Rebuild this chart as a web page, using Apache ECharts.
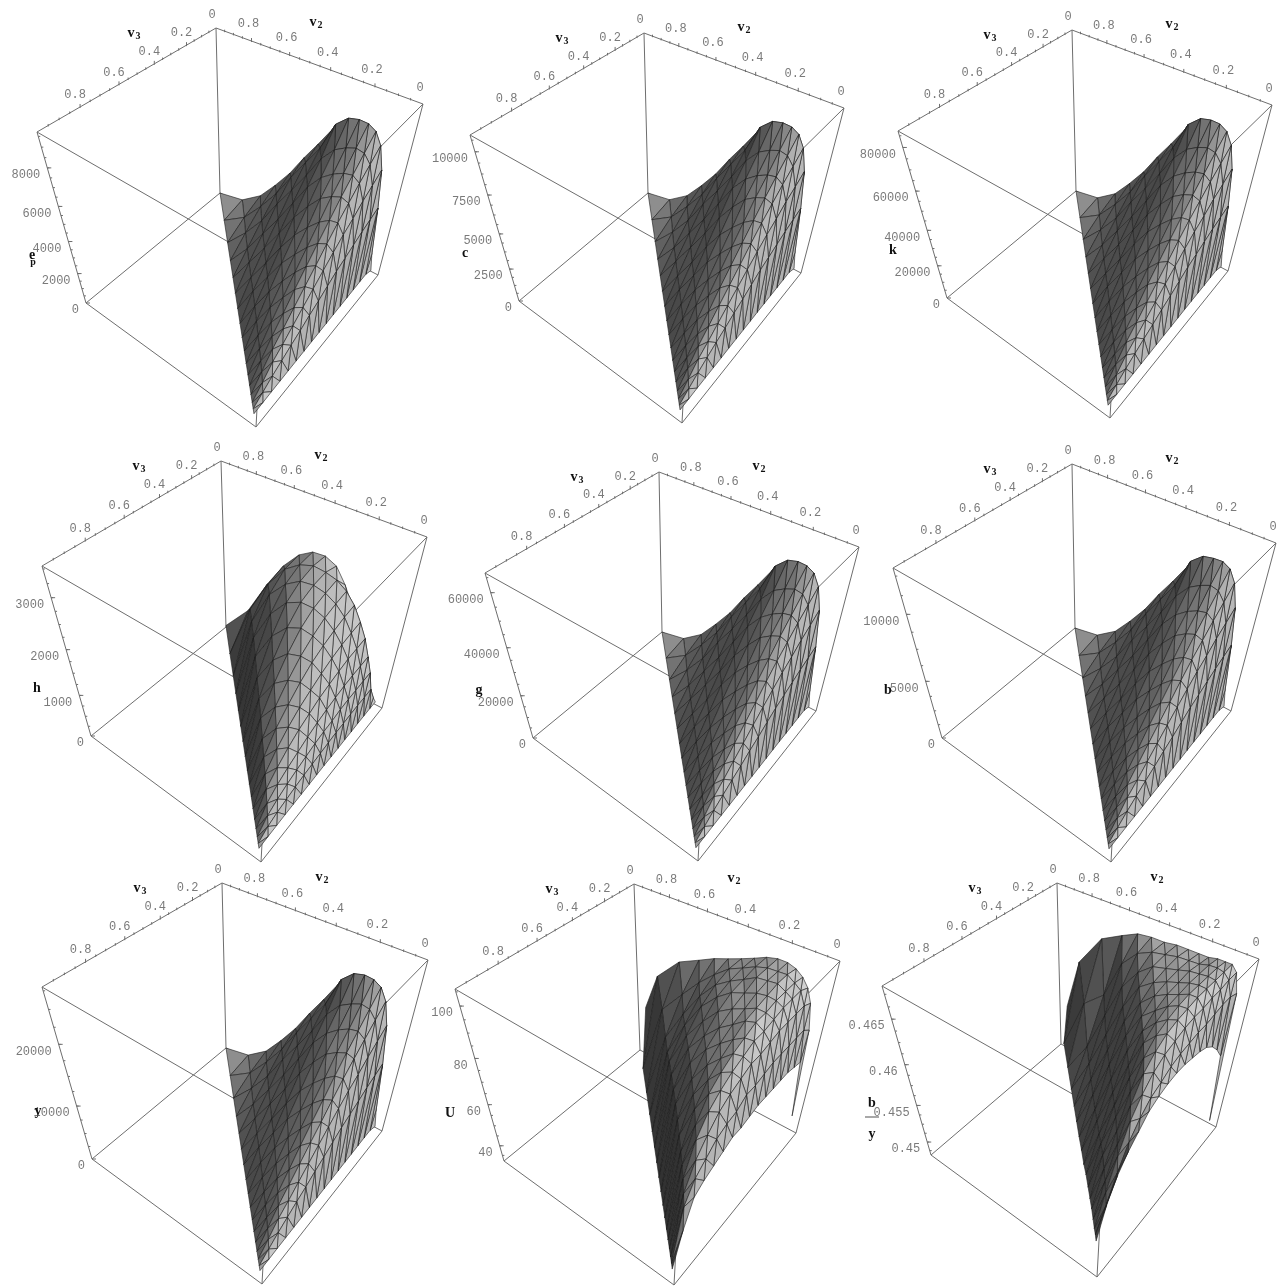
<!DOCTYPE html>
<html>
<head>
<meta charset="utf-8">
<title>surfaces</title>
<script src="https://cdn.jsdelivr.net/npm/echarts@6/dist/echarts.min.js"></script>
<style>html,body{margin:0;padding:0;background:#fff}#main{width:1282px;height:1287px}</style>
</head>
<body>
<div id="main"></div>
<script>
// v2 of each mesh row, row r holds 17-r nodes running from v3=0 to v3=1-v2
var v2Levels = [0.04, 0.055, 0.075, 0.1, 0.13, 0.165, 0.205, 0.25, 0.3, 0.355, 0.415, 0.48, 0.55, 0.63, 0.72, 0.84, 1];
var v2LevelsDome = [0.04, 0.055, 0.075, 0.1, 0.13, 0.165, 0.205, 0.25, 0.3, 0.355, 0.415, 0.48, 0.55, 0.63, 0.74, 0.87, 0.95];
var v2Ticks = [0.8, 0.6, 0.4, 0.2, 0];
var v3Ticks = [0, 0.2, 0.4, 0.6, 0.8];

// heights, one list per mesh row
var zEp = [
	[50,290,280,260,240,230,210,190,170,150,130,110,90,70,50,20,0],
	[1100,4460,4210,3970,3680,3390,3120,2770,2410,2100,1740,1430,1090,760,380,0],
	[1600,6500,6080,5690,5200,4780,4290,3770,3250,2730,2210,1690,1240,590,0],
	[1900,7660,7120,6590,6010,5440,4790,4100,3450,2800,2140,1530,770,0],
	[2000,8250,7590,6930,6270,5530,4790,4040,3300,2480,1730,870,0],
	[2100,8490,7730,6920,6200,5350,4500,3650,2800,1950,980,0],
	[2200,8540,7600,6750,5980,4950,4010,3070,2140,1070,0],
	[3000,8440,7340,6410,5400,4390,3380,2320,1180,0],
	[4500,7950,6680,5720,4610,3500,2390,1270,0],
	[6980,6490,5580,4610,3490,2370,1330,0],
	[5920,5450,4500,3430,2370,1240,0],
	[4850,4320,3400,2280,1210,0],
	[3590,3020,2080,1080,0],
	[2430,1850,970,0],
	[1260,730,0],
	[340,0],
	[0]
];
var zC = [
	[60,330,310,290,270,260,240,210,190,170,150,120,100,80,60,20,0],
	[1240,5010,4730,4460,4140,3810,3510,3110,2710,2360,1960,1610,1230,850,430,0],
	[1800,7310,6830,6400,5840,5370,4820,4240,3650,3070,2480,1900,1390,660,0],
	[2140,8610,8000,7410,6760,6110,5380,4610,3880,3150,2410,1720,870,0],
	[2250,9270,8530,7790,7050,6220,5380,4540,3710,2790,1940,980,0],
	[2360,9540,8690,7780,6970,6010,5060,4100,3150,2190,1100,0],
	[2470,9600,8540,7590,6720,5560,4510,3450,2410,1200,0],
	[3370,9490,8250,7200,6070,4930,3800,2610,1330,0],
	[5060,8940,7510,6430,5180,3930,2690,1430,0],
	[7850,7290,6270,5180,3920,2660,1490,0],
	[6650,6130,5060,3860,2660,1390,0],
	[5450,4860,3820,2560,1360,0],
	[4040,3390,2340,1210,0],
	[2730,2080,1090,0],
	[1420,820,0],
	[380,0],
	[0]
];
var zK = [
	[450,2600,2500,2300,2200,2100,1900,1700,1500,1300,1200,1000,800,600,450,200,0],
	[9900,40000,37800,35600,33000,30400,28000,24800,21600,18800,15600,12800,9800,6800,3400,0],
	[14400,58300,54500,51000,46600,42900,38500,33800,29200,24500,19800,15200,11100,5300,0],
	[17000,68700,63900,59100,53900,48800,43000,36800,30900,25100,19200,13700,6900,0],
	[17900,74000,68100,62200,56200,49600,43000,36200,29600,22200,15500,7800,0],
	[18800,76200,69300,62100,55600,48000,40400,32700,25100,17500,8800,0],
	[19700,76600,68200,60500,53600,44400,36000,27500,19200,9600,0],
	[26900,75700,65800,57500,48400,39400,30300,20800,10600,0],
	[40400,71300,59900,51300,41400,31400,21400,11400,0],
	[62600,58200,50100,41400,31300,21300,11900,0],
	[53100,48900,40400,30800,21300,11100,0],
	[43500,38800,30500,20500,10900,0],
	[32200,27100,18700,9700,0],
	[21800,16600,8700,0],
	[11300,6500,0],
	[3000,0],
	[0]
];
var zH = [
	[60,70,70,70,65,65,60,60,60,55,50,45,40,35,25,15,0],
	[130,530,520,520,510,490,480,450,420,390,360,320,270,220,140,0],
	[220,890,880,860,850,820,770,740,690,620,550,470,370,240,0],
	[300,1210,1190,1170,1140,1090,1030,960,870,760,650,520,340,0],
	[400,1560,1530,1500,1440,1370,1290,1170,1050,890,690,450,0],
	[900,1850,1810,1760,1680,1570,1440,1300,1110,870,560,0],
	[1400,2130,2080,2000,1900,1770,1580,1340,1070,680,0],
	[1850,2340,2280,2200,2050,1860,1590,1260,810,0],
	[2200,2480,2420,2330,2150,1860,1480,980,0],
	[2480,2550,2500,2380,2100,1670,1090,0],
	[2580,2590,2500,2300,1860,1220,0],
	[2560,2520,2360,2000,1350,0],
	[2400,2340,2070,1420,0],
	[2060,1930,1400,0],
	[1530,1270,0],
	[710,0],
	[40]
];
var zG = [
	[340,2000,1900,1800,1650,1600,1450,1300,1150,1000,900,750,600,480,340,140,0],
	[7500,30600,28900,27200,25200,23300,21400,19000,16500,14400,11900,9800,7500,5200,2600,0],
	[11000,44600,41700,39000,35700,32800,29400,25900,22300,18700,15200,11600,8500,4000,0],
	[13000,52500,48800,45200,41200,37300,32900,28100,23700,19200,14700,10500,5300,0],
	[13700,56600,52100,47500,43000,37900,32900,27700,22600,17000,11900,6000,0],
	[14400,58200,53000,47500,42500,36700,30900,25000,19200,13400,6700,0],
	[15100,58600,52100,46300,41000,34000,27500,21100,14700,7300,0],
	[20600,57900,50400,44000,37000,30100,23200,15900,8100,0],
	[30900,54500,45800,39200,31600,24000,16400,8700,0],
	[47900,44500,38300,31600,23900,16300,9100,0],
	[40600,37400,30900,23500,16300,8500,0],
	[33300,29600,23300,15600,8300,0],
	[24600,20700,14300,7400,0],
	[16700,12700,6700,0],
	[8600,5000,0],
	[2300,0],
	[0]
];
var zB = [
	[70,390,380,350,320,310,280,250,230,200,170,150,120,90,70,30,0],
	[1470,5980,5640,5320,4930,4540,4180,3710,3230,2810,2330,1920,1460,1020,510,0],
	[2140,8710,8150,7620,6970,6410,5750,5050,4360,3660,2960,2260,1660,790,0],
	[2550,10300,9540,8830,8050,7290,6420,5490,4620,3750,2870,2050,1030,0],
	[2680,11100,10200,9290,8400,7410,6420,5410,4420,3320,2320,1170,0],
	[2810,11400,10400,9270,8310,7170,6030,4890,3750,2610,1310,0],
	[2950,11400,10200,9050,8010,6630,5370,4110,2870,1430,0],
	[4020,11300,9840,8590,7240,5880,4530,3110,1580,0],
	[6030,10700,8950,7660,6180,4690,3200,1700,0],
	[9350,8700,7480,6180,4680,3180,1780,0],
	[7930,7300,6030,4600,3180,1660,0],
	[6500,5790,4560,3060,1620,0],
	[4810,4050,2790,1450,0],
	[3260,2480,1300,0],
	[1690,980,0],
	[460,0],
	[0]
];
var zY = [
	[140,840,810,750,690,660,610,550,490,430,380,320,260,200,140,60,0],
	[3180,12900,12200,11500,10600,9790,9010,8000,6960,6060,5020,4130,3150,2190,1100,0],
	[4620,18800,17600,16400,15000,13800,12400,10900,9380,7880,6380,4880,3580,1700,0],
	[5490,22100,20600,19000,17400,15700,13800,11800,9960,8080,6180,4420,2220,0],
	[5770,23800,21900,20000,18100,16000,13800,11700,9530,7160,4990,2510,0],
	[6060,24500,22300,20000,17900,15400,13000,10500,8080,5630,2830,0],
	[6350,24700,21900,19500,17300,14300,11600,8860,6180,3090,0],
	[8660,24400,21200,18500,15600,12700,9760,6700,3410,0],
	[13000,23000,19300,16500,13300,10100,6900,3670,0],
	[20200,18700,16100,13300,10100,6840,3840,0],
	[17100,15700,13000,9900,6840,3580,0],
	[14000,12500,9820,6580,3490,0],
	[10400,8720,6000,3120,0],
	[7020,5340,2800,0],
	[3640,2110,0],
	[980,0],
	[0]
];
var zU = [
	[39,68,69,70,70,70,70,70,69,68,68,66,64,62,59,48,33.5],
	[78,81,81,81,81,81,80,79,79,76,75,73,69,65,57,34],
	[88,90,90,90,90,89,88,88,86,84,81,76,70,60,34],
	[93,95,95,95,94,93,93,91,89,86,82,75,63,34],
	[96,97,97,97,96,96,94,92,89,85,77,65,34],
	[98,99,99,98,97,96,93,90,86,79,66,34],
	[99,99,99,98,96,94,91,87,80,68,34],
	[99,99,99,97,95,92,88,81,69,34],
	[98,98,97,96,93,88,82,70,34],
	[96,96,95,93,88,82,70,34],
	[94,94,92,88,81,70,34],
	[92,90,86,79,69,34],
	[90,85,77,66,34],
	[87,78,65,34],
	[83,68,34],
	[73,34],
	[56]
];
var zBy = [
	[0.4485,0.4582,0.4598,0.4610,0.4618,0.4622,0.4624,0.4626,0.4626,0.4624,0.4620,0.4614,0.4602,0.4590,0.4574,0.4550,0.4515],
	[0.4643,0.4647,0.4647,0.4645,0.4643,0.4643,0.4641,0.4639,0.4635,0.4628,0.4622,0.4610,0.4594,0.4570,0.4542,0.4517],
	[0.4663,0.4663,0.4661,0.4661,0.4659,0.4659,0.4657,0.4653,0.4649,0.4641,0.4628,0.4610,0.4582,0.4550,0.4517],
	[0.4669,0.4669,0.4669,0.4669,0.4669,0.4667,0.4665,0.4661,0.4653,0.4641,0.4618,0.4586,0.4554,0.4519],
	[0.4669,0.4671,0.4671,0.4671,0.4671,0.4669,0.4665,0.4659,0.4647,0.4622,0.4590,0.4558,0.4521],
	[0.4669,0.4671,0.4671,0.4671,0.4669,0.4667,0.4661,0.4651,0.4626,0.4594,0.4562,0.4521],
	[0.4667,0.4669,0.4671,0.4669,0.4667,0.4661,0.4651,0.4626,0.4594,0.4562,0.4521],
	[0.4667,0.4669,0.4669,0.4667,0.4663,0.4653,0.4628,0.4594,0.4558,0.4521],
	[0.4667,0.4669,0.4667,0.4663,0.4653,0.4630,0.4594,0.4558,0.4517],
	[0.4667,0.4667,0.4665,0.4655,0.4630,0.4594,0.4554,0.4517],
	[0.4665,0.4665,0.4655,0.4630,0.4594,0.4554,0.4515],
	[0.4665,0.4659,0.4635,0.4594,0.4554,0.4515],
	[0.4663,0.4643,0.4598,0.4554,0.4515],
	[0.4655,0.4602,0.4554,0.4515],
	[0.4643,0.4582,0.4515],
	[0.4606,0.4515],
	[0.4542]
];

var ticksEp = [0, 2000, 4000, 6000, 8000];
var ticksC = [0, 2500, 5000, 7500, 10000];
var ticksK = [0, 20000, 40000, 60000, 80000];
var ticksH = [0, 1000, 2000, 3000];
var ticksG = [0, 20000, 40000, 60000];
var ticksB = [0, 5000, 10000];
var ticksY = [0, 10000, 20000];
var ticksU = [40, 60, 80, 100];
var ticksBy = [0.45, 0.455, 0.46, 0.465];

// box corners on the page: back, right, left, front of the top face, then of the floor
var panels = [
	{ rows: zEp, min: 0, max: 9700, ticks: ticksEp, main: 'e', sub: 'p', top: [[216,28],[423,104],[37,132],[265,263]], floor: [[220,193],[378,275],[86,303],[256,427]] },
	{ rows: zC, min: 0, max: 10900, ticks: ticksC, main: 'c', top: [[644,33],[844,108],[470,135],[691,259]], floor: [[648,193],[801,273],[519,301],[682,423]] },
	{ rows: zK, min: 0, max: 87000, ticks: ticksK, main: 'k', top: [[1072,30],[1272,105],[898,131],[1119,254]], floor: [[1076,191],[1228,271],[947,298],[1110,418]] },
	{ rows: zH, min: 0, max: 3550, ticks: ticksH, main: 'h', top: [[221,461],[427,537],[42,566],[270,698]], floor: [[226,627],[382,708],[91,736],[261,862]] },
	{ rows: zG, min: 0, max: 66500, ticks: ticksG, main: 'g', top: [[659,472],[859,547],[485,573],[707,697]], floor: [[662,632],[816,711],[533,738],[698,861]] },
	{ rows: zB, min: 0, max: 13000, ticks: ticksB, main: 'b', top: [[1072,464],[1276,543],[893,568],[1120,698]], floor: [[1075,628],[1231,711],[942,738],[1111,862]] },
	{ rows: zY, min: 0, max: 28000, ticks: ticksY, main: 'y', top: [[222,883],[428,960],[42,987],[271,1120]], floor: [[226,1048],[382,1131],[92,1159],[262,1284]] },
	{ rows: zU, levels: v2LevelsDome, min: 32, max: 106, ticks: ticksU, main: 'U', top: [[634,884],[840,961],[455,989],[683,1121]], floor: [[640,1050],[796,1133],[504,1161],[674,1285]] },
	{ rows: zBy, levels: v2LevelsDome, min: 0.4481, max: 0.4683, ticks: ticksBy, main: 'b', under: 'y', top: [[1057,883],[1259,959],[882,986],[1106,1113]], floor: [[1061,1044],[1216,1127],[931,1155],[1097,1277]] }
];

var LINE = '#6e6e6e', TICK_TEXT = '#7a7a7a';
var MONO = '12px "Liberation Mono"', SERIF = 'bold 14px "Liberation Serif"', SERIF_SUB = 'bold 10px "Liberation Serif"';

// maps the unit square onto the quad back, right, front, left
function quadMap(q) {
	var x0 = q[0][0], y0 = q[0][1], x1 = q[1][0], y1 = q[1][1], x2 = q[3][0], y2 = q[3][1], x3 = q[2][0], y3 = q[2][1];
	var dx1 = x1 - x2, dx2 = x3 - x2, sx = x0 - x1 + x2 - x3;
	var dy1 = y1 - y2, dy2 = y3 - y2, sy = y0 - y1 + y2 - y3;
	var den = dx1 * dy2 - dx2 * dy1;
	var g = (sx * dy2 - dx2 * sy) / den, h = (dx1 * sy - sx * dy1) / den;
	var a = x1 - x0 + g * x1, b = x3 - x0 + h * x3, d = y1 - y0 + g * y1, e = y3 - y0 + h * y3;
	return function(u, v) {
		var w = g * u + h * v + 1;
		return [(a * u + b * v + x0) / w, (d * u + e * v + y0) / w];
	};
}

// page position of a point of the box, the top is nearer to the eye than the floor
function makeProject(p) {
	var topMap = quadMap(p.top), floorMap = quadMap(p.floor);
	return function(v2, v3, z) {
		var n = (z - p.min) / (p.max - p.min);
		var f = n * 0.8 / (1 - n + n * 0.8);
		var a = floorMap(1 - v2, v3), b = topMap(1 - v2, v3);
		return [a[0] + (b[0] - a[0]) * f, a[1] + (b[1] - a[1]) * f];
	};
}

function shade(p, a, b, c) {
	var s = 0.7 / (p.max - p.min);
	var ux = b[0] - a[0], uy = b[1] - a[1], uz = (b[2] - a[2]) * s;
	var vx = c[0] - a[0], vy = c[1] - a[1], vz = (c[2] - a[2]) * s;
	var nx = uy * vz - uz * vy, ny = uz * vx - ux * vz, nz = ux * vy - uy * vx;
	if (nz < 0) { nx = -nx; ny = -ny; nz = -nz; }
	var len = Math.sqrt(nx * nx + ny * ny + nz * nz) || 1;
	var dot = (-0.7 * nx - 0.35 * ny + 0.62 * nz) / len;
	return 0.15 + 0.68 * Math.pow(dot * 0.5 + 0.5, 1.6);
}

// triangles of one surface sorted from far to near
function buildTriangles(p) {
	var out = [], rows = p.rows, levels = p.levels || v2Levels;
	function node(r, j) {
		var m = rows[r].length - 1;
		return [levels[r], m > 0 ? (1 - levels[r]) * j / m : 0, rows[r][j]];
	}
	function push(a, b, c) {
		out.push(a.concat(b, c, [shade(p, a, b, c), (a[1] + b[1] + c[1]) - 0.85 * (a[0] + b[0] + c[0])]));
	}
	for (var r = 0; r < rows.length - 1; r++) {
		for (var j = 0; j < rows[r].length - 1; j++) {
			push(node(r, j), node(r, j + 1), node(r + 1, j));
			if (j < rows[r].length - 2) push(node(r, j + 1), node(r + 1, j), node(r + 1, j + 1));
		}
	}
	out.sort(function(x, y) { return x[10] - y[10]; });
	return out;
}

function meshSeries(p) {
	var project = makeProject(p);
	return {
		type: 'custom', silent: true, clip: false, animation: false,
		data: buildTriangles(p),
		renderItem: function(params, api) {
			var pts = [];
			for (var i = 0; i < 3; i++) {
				pts.push(api.coord(project(api.value(i * 3), api.value(i * 3 + 1), api.value(i * 3 + 2))));
			}
			var g = Math.round(api.value(9) * 255);
			return {
				type: 'polygon', shape: { points: pts },
				style: { fill: 'rgb(' + g + ',' + g + ',' + g + ')', stroke: '#1c1c1c', lineWidth: 0.6 }
			};
		}
	};
}

function frameSeries(p) {
	var project = makeProject(p);
	return {
		type: 'custom', silent: true, clip: false, animation: false,
		data: [[0, 0]],
		renderItem: function(params, api) {
			var kids = [];
			function seg(a, b, width) {
				var s = api.coord(a), e = api.coord(b);
				kids.push({ type: 'line', shape: { x1: s[0], y1: s[1], x2: e[0], y2: e[1] }, style: { stroke: LINE, lineWidth: width || 1, fill: null } });
			}
			function label(str, pos, font, fill, align) {
				var c = api.coord(pos);
				kids.push({ type: 'text', style: { text: str, x: c[0], y: c[1], font: font, fill: fill, textAlign: align || 'center', textVerticalAlign: 'middle' } });
			}
			var i, t, q;
			// the twelve box edges
			var cube = [[1,0],[0,0],[0,1],[1,1]];
			for (i = 0; i < 4; i++) {
				var c0 = cube[i], c1 = cube[(i + 1) % 4];
				seg(project(c0[0], c0[1], p.max), project(c1[0], c1[1], p.max));
				seg(project(c0[0], c0[1], p.min), project(c1[0], c1[1], p.min));
				seg(project(c0[0], c0[1], p.min), project(c0[0], c0[1], p.max));
			}
			// ticks along the top edges, every 0.05
			for (i = 1; i < 20; i++) {
				t = i / 20;
				var len = i % 4 === 0 ? 3 : 1.5;
				q = project(t, 0, p.max);
				seg([q[0], q[1] - len], [q[0], q[1] + 1]);
				q = project(1, t, p.max);
				seg([q[0], q[1] - len], [q[0], q[1] + 1]);
			}
			for (i = 0; i < v2Ticks.length; i++) {
				t = v2Ticks[i];
				q = project(t, 0, p.max);
				label(String(t), t === 0 ? [q[0] - 3, q[1] - 16] : [q[0] - 3, q[1] - 17], MONO, TICK_TEXT);
			}
			for (i = 0; i < v3Ticks.length; i++) {
				t = v3Ticks[i];
				q = project(1, t, p.max);
				label(String(t), t === 0 ? [q[0] - 4, q[1] - 13] : [q[0] - 5, q[1] - 12], MONO, TICK_TEXT);
			}
			// height axis on the left vertical edge
			var step = p.ticks[1] - p.ticks[0];
			for (i = 0; i < p.ticks.length; i++) {
				q = project(1, 1, p.ticks[i]);
				seg(q, [q[0] + 4, q[1]]);
				label(String(p.ticks[i]), [q[0] - 7, q[1] + 7], MONO, TICK_TEXT, 'right');
			}
			for (t = p.ticks[0] - step; t < p.max; t += step / 4) {
				if (t > p.min) {
					q = project(1, 1, t);
					seg(q, [q[0] + 2, q[1]]);
				}
			}
			// axis titles
			var back = p.top[0], left = p.floor[2];
			label('v', [back[0] - 85, back[1] + 5], SERIF, '#111');
			label('3', [back[0] - 78, back[1] + 8], SERIF_SUB, '#111');
			label('v', [back[0] + 97, back[1] - 6], SERIF, '#111');
			label('2', [back[0] + 104, back[1] - 3], SERIF_SUB, '#111');
			if (p.under) {
				label(p.main, [left[0] - 59, left[1] - 52], SERIF, '#111');
				seg([left[0] - 66, left[1] - 38], [left[0] - 52, left[1] - 38], 1.2);
				label(p.under, [left[0] - 59, left[1] - 21], SERIF, '#111');
			} else {
				label(p.main, [left[0] - 54, left[1] - 48], SERIF, '#111');
				if (p.sub) label(p.sub, [left[0] - 53, left[1] - 41], SERIF_SUB, '#111');
			}
			return { type: 'group', children: kids };
		}
	};
}

var allSeries = [];
for (var n = 0; n < panels.length; n++) {
	allSeries.push(frameSeries(panels[n]));
	allSeries.push(meshSeries(panels[n]));
}

var chart = echarts.init(document.getElementById('main'), null, { renderer: 'canvas' });
chart.setOption({
	backgroundColor: '#ffffff',
	animation: false,
	tooltip: { show: false },
	grid: { left: 0, top: 0, right: 0, bottom: 0 },
	xAxis: { type: 'value', min: 0, max: 1282, show: false },
	yAxis: { type: 'value', min: 0, max: 1287, inverse: true, show: false },
	series: allSeries
});
</script>
</body>
</html>
